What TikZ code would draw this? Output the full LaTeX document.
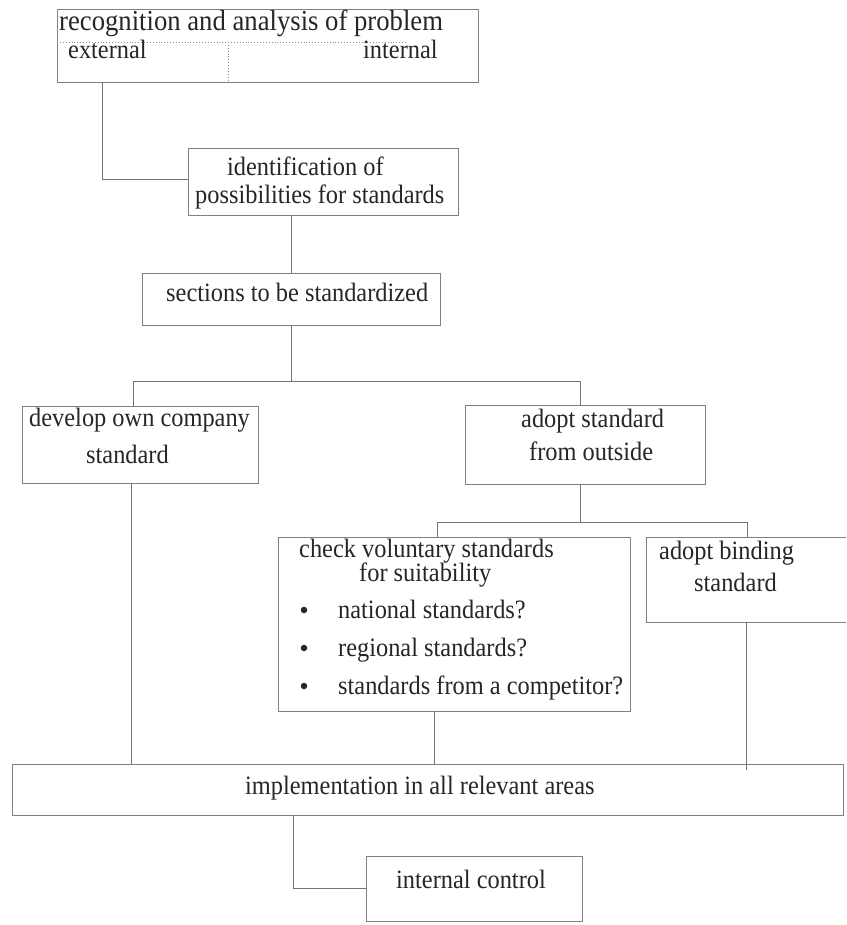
\documentclass[tikz,border=0pt]{standalone}
\usepackage{fontspec}
\setmainfont{Liberation Serif}[FakeStretch=0.92]
\begin{document}
\begin{tikzpicture}[x=1pt,y=-1pt,
  box/.style={draw=black!50, line width=0.9pt, inner sep=0pt, outer sep=0pt},
  link/.style={draw=black!55, line width=0.9pt},
  divider/.style={draw=black!45, line width=0.9pt, dotted},
  txt/.style={inner sep=0pt, anchor=base west, text=black!85,
              font=\fontsize{26.5}{31}\selectfont},
  bigtxt/.style={txt, font=\fontsize{29}{34}\selectfont},
  dot/.style={circle, fill=black!85, inner sep=0pt, minimum size=6.5pt}]
\useasboundingbox[fill=white] (0,0) rectangle (846,925);
\clip (0,0) rectangle (846,925);

% boxes
\node[box, minimum width=421pt, minimum height=73pt] (b1) at (267.5,45.5) {};
\node[box, minimum width=270pt, minimum height=67pt] (b2) at (323,181.5) {};
\node[box, minimum width=298pt, minimum height=52pt] (b3) at (291,299) {};
\node[box, minimum width=236pt, minimum height=77pt] (b4) at (140,444.5) {};
\node[box, minimum width=240pt, minimum height=79pt] (b5) at (585,444.5) {};
\node[box, minimum width=352pt, minimum height=174pt] (b6) at (454,624) {};
\node[box, minimum width=214pt, minimum height=85pt] (b7) at (753,579.5) {};
\node[box, minimum width=831pt, minimum height=51pt] (b8) at (427.5,789.5) {};
\node[box, minimum width=216pt, minimum height=65pt] (b9) at (474,888.5) {};

% split of the first box
\coordinate (s1) at (57,42);
\coordinate (s2) at (407,42);
\coordinate (s3) at (228,42);
\draw[divider] (s1) -- (s2);
\draw[divider] (s3) -- (s3 |- b1.south);

% texts
\node[bigtxt] (t1) at (59,31) {recognition and analysis of problem};
\node[txt] (t1a) at (68,59) {external};
\node[txt] (t1b) at (363,59) {internal};
\node[txt] (t2a) at (227,176) {identification of};
\node[txt] (t2b) at (195,204) {possibilities for standards};
\node[txt] (t3) at (166,301) {sections to be standardized};
\node[txt] (t4a) at (29,426) {develop own company};
\node[txt] (t4b) at (86,463) {standard};
\node[txt] (t5a) at (521,427) {adopt standard};
\node[txt] (t5b) at (529,460) {from outside};
\node[txt] (t6a) at (299,557) {check voluntary standards};
\node[txt] (t6b) at (359,581) {for suitability};
\node[dot] (d1) at (304,610) {};
\node[dot] (d2) at (304,648) {};
\node[dot] (d3) at (304,686) {};
\node[txt] (t6c) at (338,618) {national standards?};
\node[txt] (t6d) at (338,656) {regional standards?};
\node[txt] (t6e) at (338,694) {standards from a competitor?};
\node[txt] (t7a) at (659,559) {adopt binding};
\node[txt] (t7b) at (694,591) {standard};
\node[txt] (t8) at (245,794) {implementation in all relevant areas};
\node[txt] (t9) at (396,888) {internal control};

% connectors
\coordinate (c1) at (102,0);
\draw[link] (c1 |- b1.south) |- ([yshift=2.5pt]b2.west);
\draw[link] (b3.north |- b2.south) -- (b3.north);

\coordinate (j1) at (291,381);
\coordinate (l1) at (133,381);
\coordinate (r1) at (580,381);
\draw[link] (b3.south) -- (j1);
\draw[link] (l1) -- (r1);
\draw[link] (l1) -- (l1 |- b4.north);
\draw[link] (r1) -- (r1 |- b5.north);

\coordinate (l2) at (437,522);
\coordinate (r2) at (747,522);
\draw[link] (r1 |- b5.south) -- (r1 |- l2);
\draw[link] (l2) -- (r2);
\draw[link] (l2) -- (l2 |- b6.north);
\draw[link] (r2) -- (r2 |- b7.north);

\coordinate (v1) at (131,0);
\coordinate (v2) at (434,0);
\coordinate (v3) at (746,0);
\draw[link] (v1 |- b4.south) -- (v1 |- b8.north);
\draw[link] (v2 |- b6.south) -- (v2 |- b8.north);
\draw[link] (v3 |- b7.south) -- ([yshift=-6pt]v3 |- b8.north);

\coordinate (v4) at (293,0);
\draw[link] (v4 |- b8.south) |- (b9.west);
\end{tikzpicture}
\end{document}
